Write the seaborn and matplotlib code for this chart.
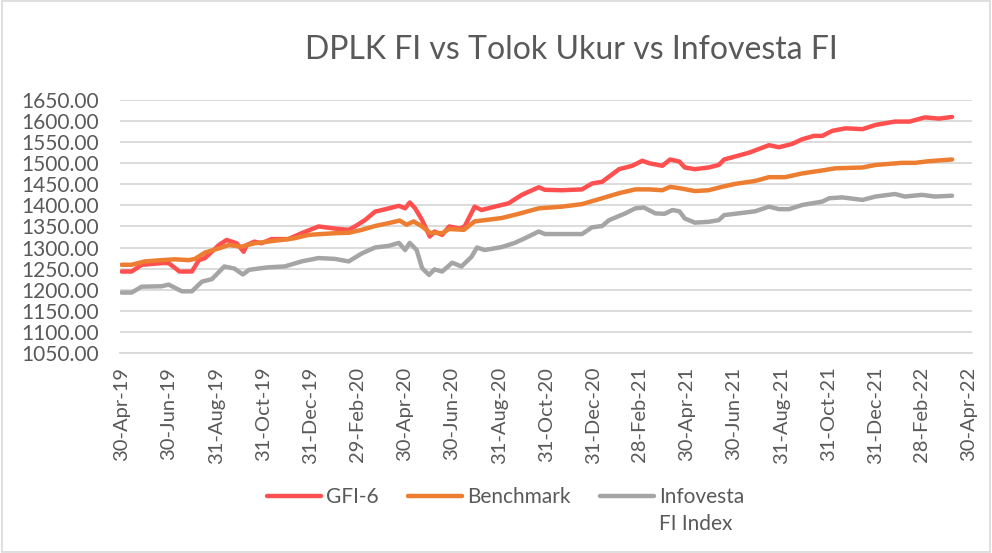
import pandas as pd
import matplotlib
matplotlib.use('Agg')
import matplotlib.pyplot as plt
from matplotlib.patches import Rectangle
import seaborn as sns

# GFI-6 (red)
gfi_dates = ['2019-04-30', '2019-05-13', '2019-05-26', '2019-06-21', '2019-06-30', '2019-07-14',
             '2019-07-30', '2019-08-08', '2019-08-16', '2019-09-03', '2019-09-13', '2019-09-26',
             '2019-10-05', '2019-10-09', '2019-10-19', '2019-10-28', '2019-11-10', '2019-12-02',
             '2019-12-19', '2020-01-10', '2020-01-31', '2020-02-18', '2020-02-26', '2020-03-10',
             '2020-03-23', '2020-04-10', '2020-04-23', '2020-05-01', '2020-05-07', '2020-05-14',
             '2020-05-23', '2020-06-02', '2020-06-08', '2020-06-18', '2020-06-27', '2020-07-11',
             '2020-07-17', '2020-07-30', '2020-08-08', '2020-08-25', '2020-09-12', '2020-09-29',
             '2020-10-21', '2020-10-29', '2020-11-20', '2020-12-16', '2020-12-29', '2021-01-11',
             '2021-02-02', '2021-02-19', '2021-03-04', '2021-03-13', '2021-03-30', '2021-04-09',
             '2021-04-21', '2021-04-28', '2021-05-11', '2021-05-29', '2021-06-11', '2021-06-18',
             '2021-07-02', '2021-07-20', '2021-08-15', '2021-08-28', '2021-09-14', '2021-09-27',
             '2021-10-12', '2021-10-23', '2021-11-05', '2021-11-22', '2021-12-14', '2021-12-31',
             '2022-01-25', '2022-02-13', '2022-03-05', '2022-03-23', '2022-04-09']
gfi_vals = [1243, 1243, 1259, 1263, 1263, 1243,
            1243, 1270, 1275, 1306, 1318, 1310,
            1290, 1306, 1314, 1310, 1320, 1320,
            1334, 1350, 1345, 1342, 1350, 1365,
            1385, 1393, 1399, 1393, 1407, 1393,
            1365, 1326, 1338, 1330, 1350, 1345,
            1350, 1397, 1389, 1397, 1405, 1425,
            1443, 1437, 1436, 1438, 1452, 1456,
            1486, 1494, 1506, 1500, 1494, 1509,
            1504, 1490, 1486, 1490, 1496, 1509,
            1516, 1525, 1543, 1538, 1546, 1557,
            1565, 1565, 1577, 1583, 1581, 1591,
            1599, 1599, 1609, 1606, 1610]

# Benchmark (orange)
bm_dates = ['2019-04-30', '2019-05-13', '2019-05-30', '2019-06-21', '2019-07-08', '2019-07-26',
            '2019-08-03', '2019-08-16', '2019-09-03', '2019-09-16', '2019-10-02', '2019-10-19',
            '2019-11-14', '2019-12-10', '2019-12-28', '2020-01-31', '2020-02-18', '2020-03-06',
            '2020-03-23', '2020-04-10', '2020-04-24', '2020-05-03', '2020-05-12', '2020-05-23',
            '2020-06-02', '2020-06-18', '2020-06-27', '2020-07-16', '2020-07-30', '2020-09-03',
            '2020-09-25', '2020-10-21', '2020-11-20', '2020-12-16', '2021-01-11', '2021-02-02',
            '2021-02-23', '2021-03-13', '2021-03-30', '2021-04-09', '2021-04-24', '2021-05-11',
            '2021-05-29', '2021-06-15', '2021-07-02', '2021-07-28', '2021-08-15', '2021-09-05',
            '2021-09-27', '2021-10-23', '2021-11-09', '2021-12-14', '2021-12-31', '2022-02-03',
            '2022-02-20', '2022-03-10', '2022-04-09']
bm_vals = [1259, 1259, 1267, 1270, 1272, 1270,
           1273, 1288, 1298, 1306, 1302, 1310,
           1316, 1322, 1330, 1334, 1335, 1342,
           1351, 1358, 1364, 1354, 1362, 1350,
           1335, 1334, 1344, 1342, 1362, 1370,
           1380, 1393, 1397, 1403, 1417, 1429,
           1438, 1438, 1436, 1444, 1440, 1434,
           1436, 1444, 1451, 1458, 1467, 1467,
           1476, 1483, 1488, 1490, 1496, 1501,
           1501, 1505, 1509]

# Infovesta FI Index (grey)
ifi_dates = ['2019-04-30', '2019-05-13', '2019-05-26', '2019-06-21', '2019-06-30', '2019-07-17',
             '2019-07-30', '2019-08-12', '2019-08-25', '2019-09-10', '2019-09-23', '2019-10-04',
             '2019-10-12', '2019-10-24', '2019-11-06', '2019-11-27', '2019-12-19', '2020-01-10',
             '2020-01-31', '2020-02-18', '2020-03-06', '2020-03-23', '2020-04-10', '2020-04-23',
             '2020-05-01', '2020-05-07', '2020-05-16', '2020-05-23', '2020-06-01', '2020-06-08',
             '2020-06-18', '2020-07-01', '2020-07-13', '2020-07-26', '2020-08-02', '2020-08-12',
             '2020-09-03', '2020-09-20', '2020-10-03', '2020-10-21', '2020-10-29', '2020-12-16',
             '2020-12-29', '2021-01-11', '2021-01-20', '2021-02-10', '2021-02-23', '2021-03-06',
             '2021-03-21', '2021-04-02', '2021-04-12', '2021-04-21', '2021-04-28', '2021-05-11',
             '2021-05-29', '2021-06-11', '2021-06-18', '2021-07-02', '2021-07-28', '2021-08-15',
             '2021-08-28', '2021-09-10', '2021-09-27', '2021-10-23', '2021-11-01', '2021-11-18',
             '2021-12-14', '2021-12-31', '2022-01-25', '2022-02-07', '2022-03-01', '2022-03-18',
             '2022-04-09']
ifi_vals = [1193, 1193, 1207, 1208, 1212, 1196,
            1196, 1219, 1225, 1255, 1250, 1236,
            1247, 1250, 1253, 1255, 1267, 1275,
            1273, 1267, 1286, 1300, 1304, 1311,
            1294, 1311, 1294, 1251, 1235, 1248,
            1243, 1264, 1255, 1278, 1300, 1294,
            1301, 1311, 1322, 1338, 1332, 1332,
            1348, 1351, 1365, 1381, 1393, 1395,
            1381, 1380, 1389, 1386, 1369, 1359,
            1361, 1365, 1377, 1380, 1386, 1397,
            1391, 1391, 1401, 1409, 1417, 1419,
            1413, 1421, 1427, 1421, 1425, 1421,
            1423]

tick_dates = ['2019-04-30', '2019-06-30', '2019-08-31', '2019-10-31', '2019-12-31', '2020-02-29',
              '2020-04-30', '2020-06-30', '2020-08-31', '2020-10-31', '2020-12-31', '2021-02-28',
              '2021-04-30', '2021-06-30', '2021-08-31', '2021-10-31', '2021-12-31', '2022-02-28',
              '2022-04-30']
y_ticks = [1050, 1100, 1150, 1200, 1250, 1300, 1350, 1400, 1450, 1500, 1550, 1600, 1650]

labels = ['GFI-6', 'Benchmark', 'Infovesta FI Index']
colors = {'GFI-6': '#ff4f4f', 'Benchmark': '#ed7d31', 'Infovesta FI Index': '#a5a5a5'}

df = pd.concat([
    pd.DataFrame({'date': pd.to_datetime(gfi_dates), 'value': gfi_vals, 'series': labels[0]}),
    pd.DataFrame({'date': pd.to_datetime(bm_dates), 'value': bm_vals, 'series': labels[1]}),
    pd.DataFrame({'date': pd.to_datetime(ifi_dates), 'value': ifi_vals, 'series': labels[2]}),
])

sns.set_style('white')
plt.rcParams['font.family'] = ['Lato', 'DejaVu Sans']
txt = '#595959'

fig = plt.figure(figsize=(9.92, 5.53), dpi=100)
ax = fig.add_axes([0.121, 0.362, 0.859, 0.457])

sns.lineplot(data=df, x='date', y='value', hue='series', hue_order=labels, palette=colors,
             linewidth=3.2, ax=ax, legend=False)

ax.set_ylim(1050, 1650)
ax.set_yticks(y_ticks)
ax.set_yticklabels([f'{v:.2f}' for v in y_ticks])
ticks = pd.to_datetime(tick_dates)
ax.set_xticks(ticks)
ax.set_xticklabels([t.strftime('%d-%b-%y') for t in ticks], rotation=90)
ax.set_xlim(pd.Timestamp('2019-04-28'), pd.Timestamp('2022-05-05'))
ax.yaxis.grid(True, color='#d9d9d9', linewidth=1.3)
ax.xaxis.grid(False)
ax.set_axisbelow(True)
for side in ['top', 'right', 'left']:
    ax.spines[side].set_visible(False)
ax.spines['bottom'].set_color('#d9d9d9')
ax.spines['bottom'].set_linewidth(1.3)
ax.tick_params(axis='y', length=0, pad=15, labelsize=15, labelcolor=txt)
ax.tick_params(axis='x', length=0, pad=10, labelsize=14.5, labelcolor=txt)
ax.set_xlabel('')
ax.set_ylabel('')

fig.text(0.5756, 0.909, 'DPLK FI vs Tolok Ukur vs Infovesta FI', ha='center', va='center',
         fontsize=23, color=txt)

# legend: last label wraps onto a second line under the first, as in the source
handles = [plt.Line2D([], [], color=colors[l], linewidth=3.2, solid_capstyle='round') for l in labels]
leg_labels = ['GFI-6', 'Benchmark', 'Infovesta']
leg = fig.legend(handles, leg_labels, loc='center', bbox_to_anchor=(0.5096, 0.101), ncol=3,
                 frameon=False, fontsize=15, handlelength=2.6, handletextpad=0.25,
                 columnspacing=1.4, labelcolor=txt)
fig.canvas.draw()
bb = leg.get_texts()[2].get_window_extent().transformed(fig.transFigure.inverted())
fig.text(bb.x0, bb.y0 - 0.012, 'FI Index', ha='left', va='top', fontsize=15, color=txt)

fig.patches.append(Rectangle((0.002, 0.002), 0.996, 0.996, transform=fig.transFigure,
                             fill=False, edgecolor='#d9d9d9', linewidth=1.2))

fig.savefig('out.png', dpi=100)
